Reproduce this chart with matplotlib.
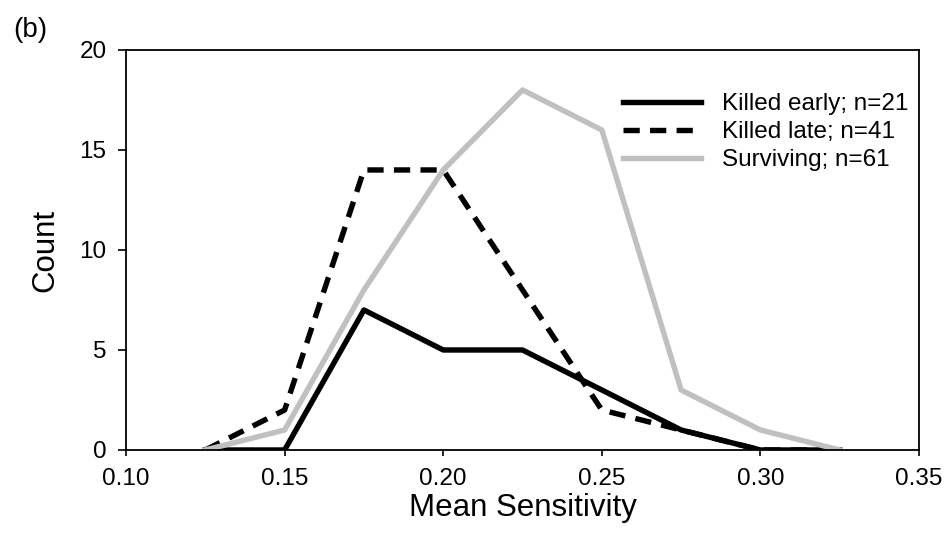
import matplotlib.pyplot as plt
import numpy as np

plt.rcParams['font.family'] = ['Liberation Sans', 'DejaVu Sans']

sensitivity = [0.125, 0.15, 0.175, 0.2, 0.225, 0.25, 0.275, 0.3, 0.325]
killed_early = [0, 0, 7, 5, 5, 3, 1, 0, 0]
killed_late = [0, 2, 14, 14, 8, 2, 1, 0, 0]
surviving = [0, 1, 8, 14, 18, 16, 3, 1, 0]

fig = plt.figure(figsize=(9.49, 5.35), dpi=100)
ax = fig.add_axes([0.1328, 0.1589, 0.8356, 0.7477])

lw = 3.9
ax.plot(sensitivity, killed_early, color='black', lw=lw, label='Killed early; n=21')
ax.plot(sensitivity, killed_late, color='black', lw=lw, ls=(0, (3, 1.9)), label='Killed late; n=41')
ax.plot(sensitivity, surviving, color='#c0c0c0', lw=lw, label='Surviving; n=61')

ax.set_xlim(0.10, 0.35)
ax.set_ylim(0, 20)
ax.set_xticks(np.arange(0.10, 0.351, 0.05))
ax.set_xticklabels(['0.10', '0.15', '0.20', '0.25', '0.30', '0.35'])
ax.set_yticks([0, 5, 10, 15, 20])
ax.tick_params(axis='x', direction='out', labelsize=17.5, length=4, width=1.2, pad=9)
ax.tick_params(axis='y', direction='out', labelsize=17.5, length=6, width=1.2, pad=8)
for s in ax.spines.values():
    s.set_linewidth(1.3)
ax.set_xlabel('Mean Sensitivity', fontsize=22.5, labelpad=2)
ax.set_ylabel('Count', fontsize=22.5, labelpad=14)

ax.legend(loc='upper left', bbox_to_anchor=(0.627, 0.892), frameon=False,
          borderpad=0, borderaxespad=0, fontsize=17.5, handlelength=3.2,
          handletextpad=0.85, labelspacing=0.25)

fig.text(0.014, 0.968, '(b)', fontsize=20, va='top')

fig.savefig('out.png', dpi=100)
